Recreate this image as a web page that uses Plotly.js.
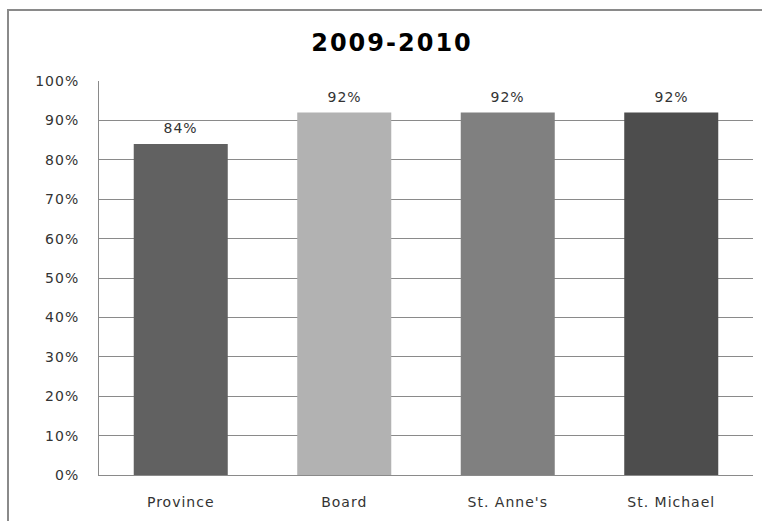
<!DOCTYPE html>
<html>
<head>
<meta charset="utf-8">
<script src="https://cdn.plot.ly/plotly-3.0.1.min.js"></script>
<style>
  html, body { margin: 0; padding: 0; background: #ffffff; overflow: hidden; width: 762px; height: 521px; }
  #frame { position: absolute; left: 7px; top: 9px; width: 755px; height: 512px; border-left: 2px solid #8a8a8a; border-top: 2px solid #8a8a8a; border-right: 0; border-bottom: 0; box-sizing: border-box; }
  #chart { position: absolute; left: 0; top: 0; width: 762px; height: 521px; }
  #chart .xtick text, #chart .ytick text, #chart .annotation-text { letter-spacing: 1px; }
  #chart .gtitle { letter-spacing: 2px; }
</style>
</head>
<body>
<div id="frame"></div>
<div id="chart"></div>
<script>
const categories = ["Province", "Board", "St. Anne's", "St. Michael"];
const values = [0.84, 0.92, 0.92, 0.92];
const valueLabels = ["84%", "92%", "92%", "92%"];
const barColors = ["#616161", "#b2b2b2", "#808080", "#4d4d4d"];
const yTickVals = [0, 0.1, 0.2, 0.3, 0.4, 0.5, 0.6, 0.7, 0.8, 0.9, 1.0];
const yTickText = ["0%", "10%", "20%", "30%", "40%", "50%", "60%", "70%", "80%", "90%", "100%"];

const font = "DejaVu Sans, Verdana, sans-serif";

const labelAnnotations = categories.map((c, i) => ({
  x: c,
  y: values[i],
  xref: "x",
  yref: "y",
  text: valueLabels[i],
  showarrow: false,
  xanchor: "center",
  yanchor: "bottom",
  yshift: 6,
  font: { family: font, size: 14, color: "#333333" }
}));

Plotly.newPlot("chart", [{
  type: "bar",
  x: categories,
  y: values,
  marker: { color: barColors, line: { width: 0 } },
  hoverinfo: "none"
}], {
  width: 762,
  height: 521,
  paper_bgcolor: "rgba(0,0,0,0)",
  plot_bgcolor: "rgba(0,0,0,0)",
  margin: { l: 99, r: 9, t: 80.5, b: 45.5 },
  bargap: 0.425,
  showlegend: false,
  annotations: labelAnnotations,
  title: {
    text: "<b>2009-2010</b>",
    x: 392 / 762,
    xref: "container",
    xanchor: "center",
    y: 1 - 43 / 521,
    yanchor: "middle",
    font: { family: "DejaVu Sans, sans-serif", size: 24, color: "#000000" }
  },
  xaxis: {
    type: "category",
    showgrid: false,
    showline: true,
    linecolor: "#8a8a8a",
    linewidth: 1,
    ticks: "",
    ticklabelstandoff: 14,
    tickfont: { family: font, size: 14, color: "#333333" },
    zeroline: false,
    fixedrange: true
  },
  yaxis: {
    range: [0, 1],
    tickvals: yTickVals,
    ticktext: yTickText,
    showgrid: true,
    gridcolor: "#8a8a8a",
    gridwidth: 1,
    showline: true,
    linecolor: "#8a8a8a",
    linewidth: 1,
    ticks: "",
    ticklabelstandoff: 16,
    tickfont: { family: font, size: 14, color: "#333333" },
    zeroline: false,
    fixedrange: true
  }
}, { displayModeBar: false, staticPlot: true });
</script>
</body>
</html>
